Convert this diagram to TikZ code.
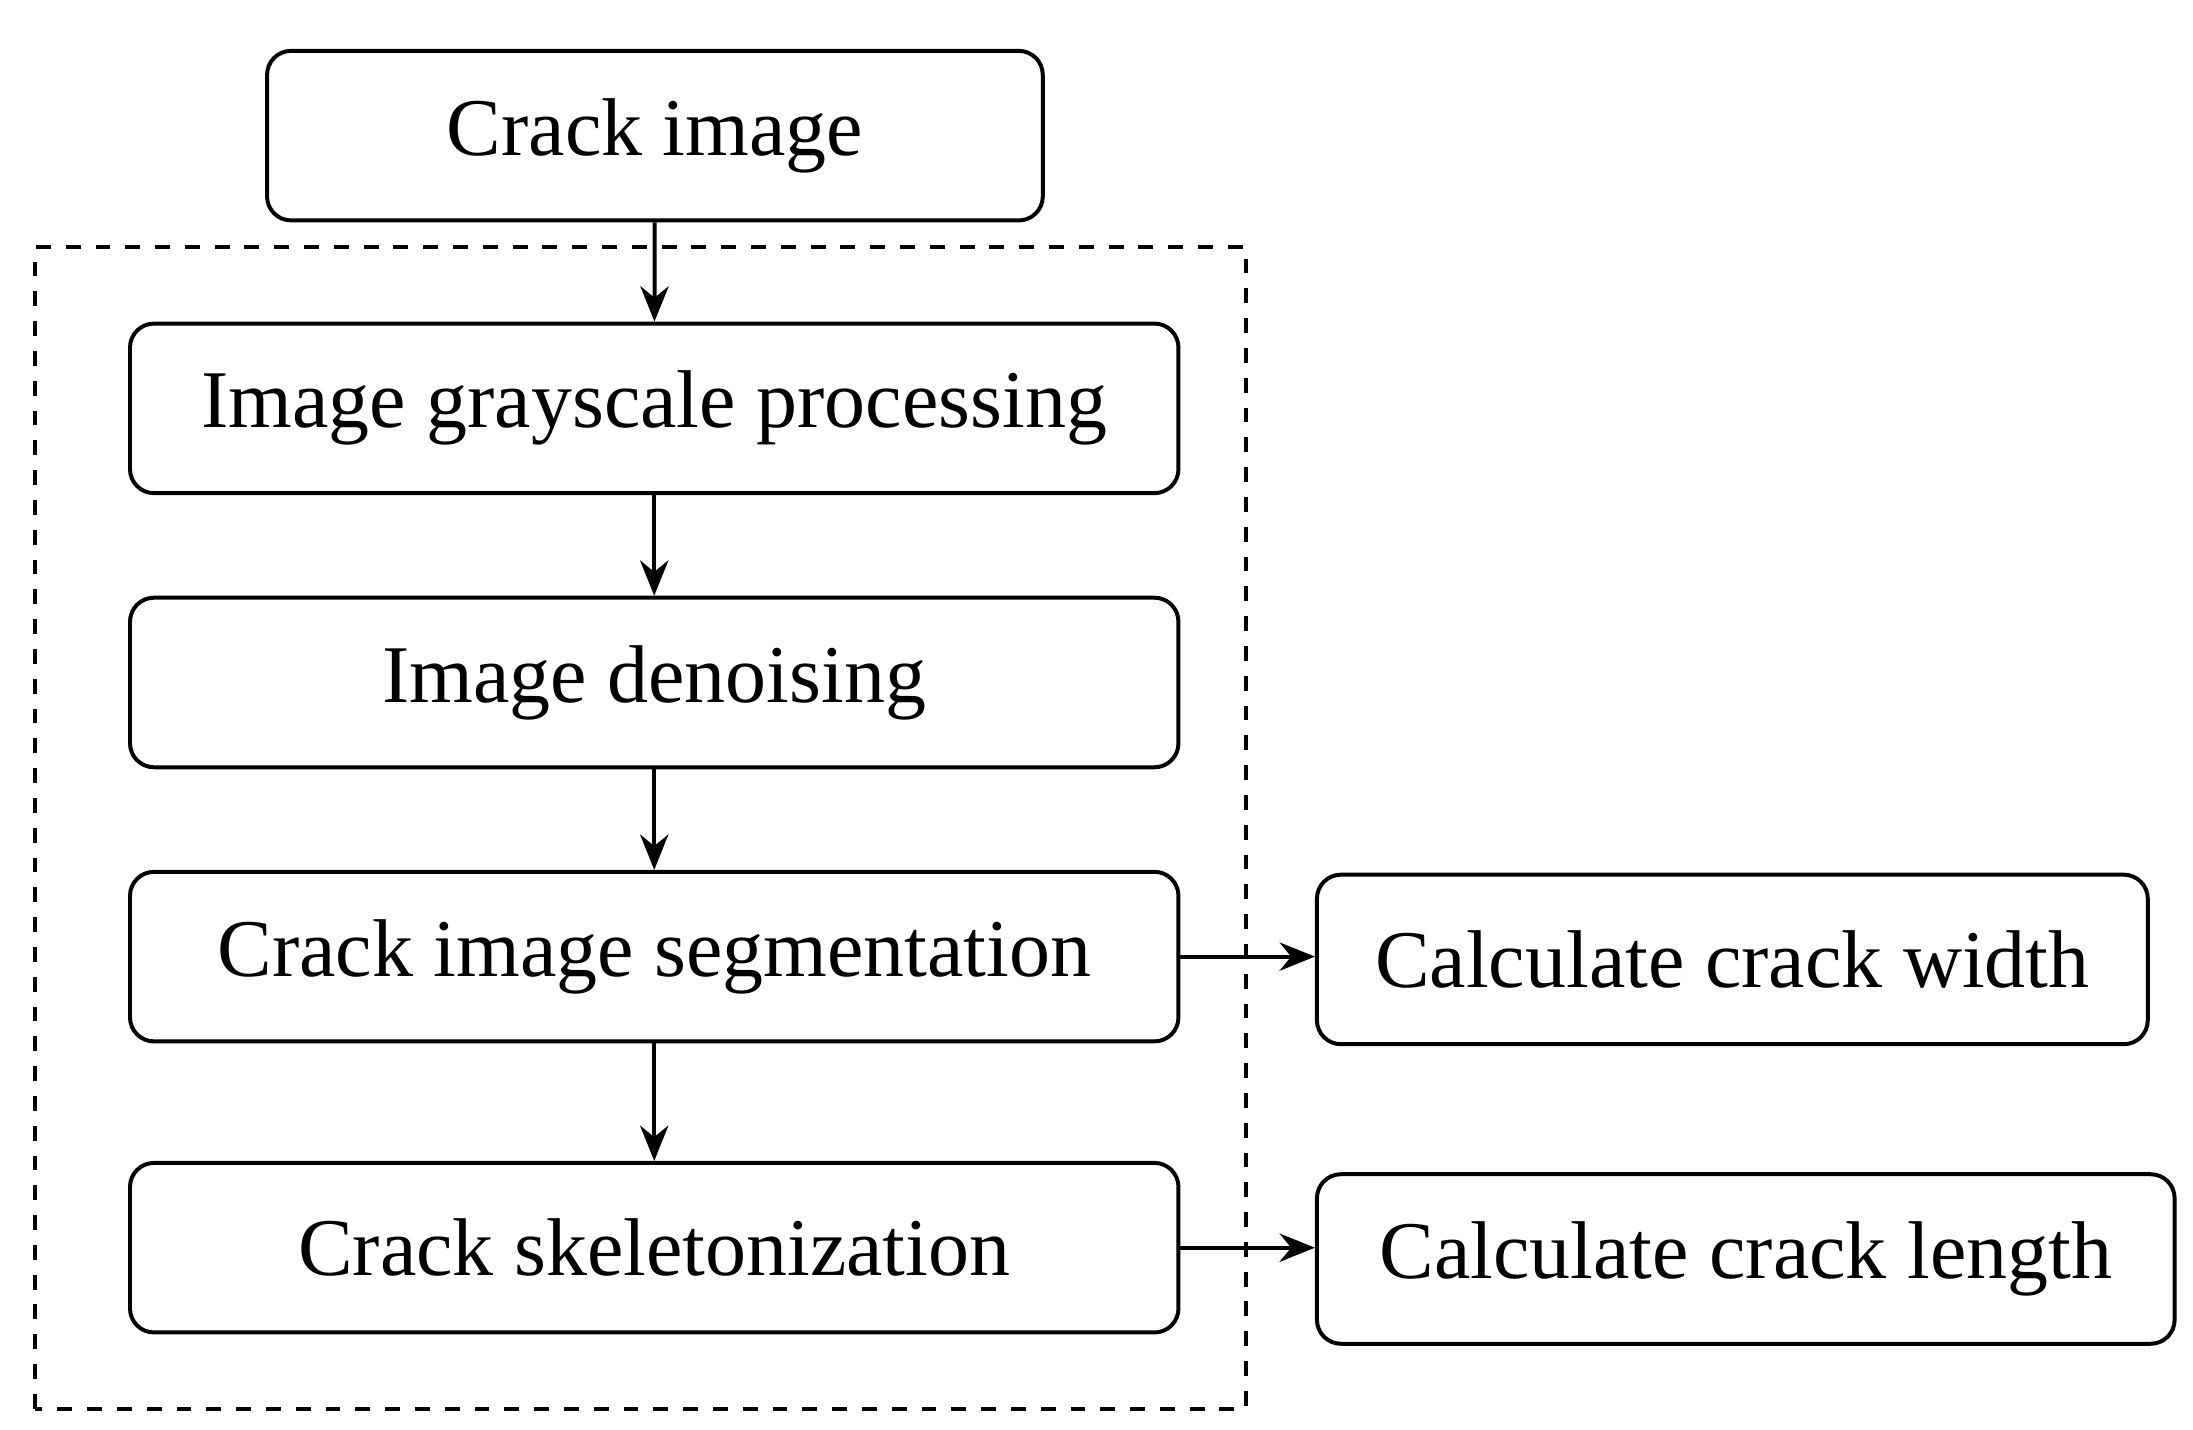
\documentclass[tikz,border=0pt]{standalone}
\usepackage{fontspec}
\setmainfont{Liberation Serif}
\usetikzlibrary{positioning,arrows.meta}
\begin{document}
\begin{tikzpicture}[thick, >={Stealth[length=2.5mm,width=2mm]},
    box/.style = {draw, rounded corners=0.17cm, minimum height=1.2cm, font=\fontsize{16.5}{20}\selectfont}]
        \useasboundingbox (0,0) rectangle (15.52,10.12);
        \node[box, minimum width=5.49cm] (img) at (4.635,9.16) {Crack image};
        \node[box, minimum width=7.42cm] (gray) at (4.63,7.23) {Image grayscale processing};
        \node[box, minimum width=7.42cm] (den) at (4.63,5.29) {Image denoising};
        \node[box, minimum width=7.42cm] (seg) at (4.63,3.35) {Crack image segmentation};
        \node[box, minimum width=7.42cm] (skel) at (4.63,1.29) {Crack skeletonization};
        \node[box, minimum width=5.88cm] (width) at (12.26,3.33) {Calculate crack width};
        \node[box, minimum width=6.07cm] (len) at (12.355,1.21) {Calculate crack length};
        \draw[dashed] (0.25,0.15) rectangle (8.82,8.37);
        \draw[->] (img) -- (gray);
        \draw[->] (gray) -- (den);
        \draw[->] (den) -- (seg);
        \draw[->] (seg) -- (skel);
        \draw[->] (seg.east) -- (seg.east -| width.west);
        \draw[->] (skel.east) -- (skel.east -| len.west);
\end{tikzpicture}
\end{document}
